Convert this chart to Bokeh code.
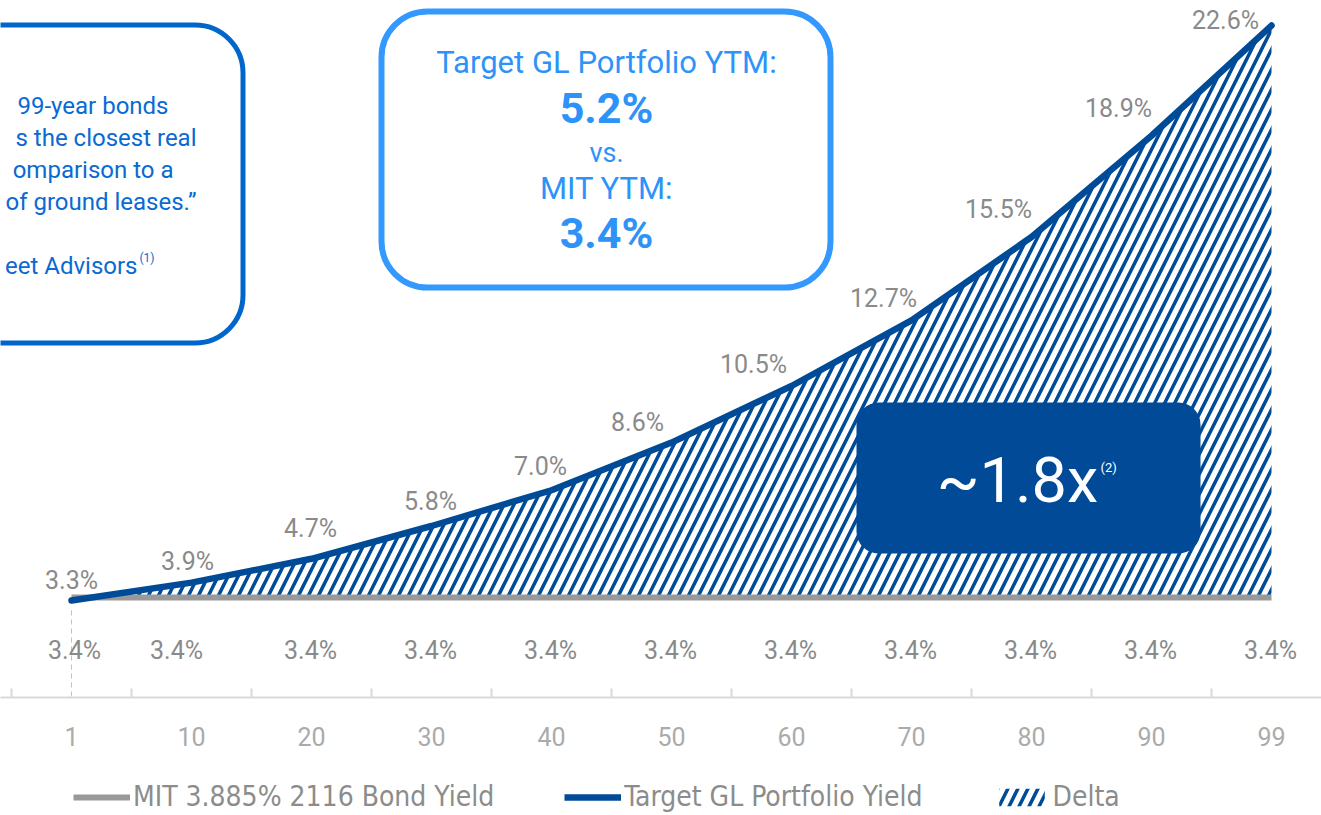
from bokeh.plotting import figure
from bokeh.layouts import column
from bokeh.models import Range1d, FixedTicker, ColumnDataSource, Legend, LegendItem
from bokeh.embed import file_html
from bokeh.resources import INLINE
from bokeh.core.properties import value

# ---------------- data ----------------
years = ["1", "10", "20", "30", "40", "50", "60", "70", "80", "90", "99"]
target_yield = [3.3, 3.9, 4.7, 5.8, 7.0, 8.6, 10.5, 12.7, 15.5, 18.9, 22.6]
mit_yield = [3.4, 3.4, 3.4, 3.4, 3.4, 3.4, 3.4, 3.4, 3.4, 3.4, 3.4]
series_names = ["MIT 3.885% 2116 Bond Yield", "Target GL Portfolio Yield", "Delta"]

# label nudges (styling, screen px)
target_dx = [0, -4, -1, -1, -11, -34, -38, -28, -33, -33, -46]
target_dy = [-20, -21, -30, -25, -24, -20, -21, -22, -28, -27, -5]
mit_dx = [3, -15, -1, -1, -1, -1, -1, -1, -1, -1, -1]

FONT = "Roboto"
BLUE = "#004B97"
GRAY = "#999999"
LABEL_GRAY = "#8a8a8a"
W = 1321

xs = list(range(len(years)))
src = ColumnDataSource(dict(
    x=xs, target=target_yield, mit=mit_yield,
    tlabel=[f"{v:.1f}%" for v in target_yield],
    mlabel=[f"{v:.1f}%" for v in mit_yield],
    tdx=target_dx, tdy=target_dy, mdx=mit_dx,
))

# pixel helpers for annotation placement (page px -> data)
def X(px):
    return (px - 71) / 120.0

def Y(py):
    return 3.4 + (597 - py) / 29.79

FRAME_BOTTOM = 697
MAIN_H = 762
p = figure(width=W, height=MAIN_H,
           x_range=Range1d(X(0), X(W)), y_range=Range1d(Y(FRAME_BOTTOM), Y(0)),
           output_backend="svg", toolbar_location=None, y_axis_location=None,
           min_border_left=0, min_border_right=0, min_border_top=0,
           min_border_bottom=MAIN_H - FRAME_BOTTOM)
p.outline_line_color = None
p.xgrid.visible = False
p.ygrid.visible = False
p.background_fill_color = "white"

ax = p.xaxis[0]
ax.ticker = FixedTicker(ticks=xs, minor_ticks=[i - 0.5 for i in range(len(years) + 1)])
ax.major_label_overrides = {i: years[i] for i in xs}
ax.axis_line_color = "#d9d9d9"
ax.axis_line_width = 2
ax.major_tick_in = 0
ax.major_tick_out = 0
ax.minor_tick_in = 9
ax.minor_tick_out = 0
ax.minor_tick_line_color = "#d9d9d9"
ax.minor_tick_line_width = 2
ax.major_label_standoff = 29
ax.major_label_text_font = FONT
ax.major_label_text_font_size = "25px"
ax.major_label_text_color = "#ababab"

# drop line at first point
p.segment(x0=[xs[0]], y0=[Y(610)], x1=[xs[0]], y1=[Y(697)], line_color="#b9c3d3",
          line_width=1, line_dash="5 4")

# delta hatch
HATCH = dict(fill_color="white", hatch_pattern="/", hatch_color=BLUE, hatch_scale=20, hatch_weight=3.5)
delta = p.varea(x="x", y1="mit", y2="target", source=src, **HATCH)

mit_line = p.line("x", "mit", source=src, line_color=GRAY, line_width=6)
tgt_line = p.line("x", "target", source=src, line_color=BLUE, line_width=6.5, line_cap="round")

# data labels
p.text(x="x", y="target", text="tlabel", source=src, x_offset="tdx", y_offset="tdy",
       text_align="center", text_baseline="middle", text_font=value(FONT),
       text_font_size="25px", text_color=LABEL_GRAY)
p.text(x="x", y="mit", text="mlabel", source=src, x_offset="mdx", y_offset=53,
       text_align="center", text_baseline="middle", text_font=value(FONT),
       text_font_size="25px", text_color=LABEL_GRAY)

# ---------------- boxes ----------------
# left quote box
p.quad(left=[X(-60)], right=[X(242.5)], top=[Y(24.5)], bottom=[Y(342.5)],
       fill_color=None, line_color="#0066CC", line_width=5, border_radius=48)
quote_lines = ["99-year bonds", "s the closest real", "omparison to a", "of ground leases.\u201d", "eet Advisors"]
quote_right = [168, 196, 173, 196, 137]
quote_y = [105, 137, 169, 201, 265]
p.text(x=[X(v) for v in quote_right], y=[Y(v) for v in quote_y], text=quote_lines,
       text_align="right", text_baseline="middle", text_font=value(FONT),
       text_font_size="24px", text_color="#0A6AD3")
p.text(x=[X(139)], y=[Y(257)], text=["(1)"], text_align="left", text_baseline="middle",
       text_font=value(FONT), text_font_size="12px", text_color="#0A6AD3")

# top YTM box
p.quad(left=[X(381)], right=[X(830)], top=[Y(11)], bottom=[Y(287)],
       fill_color=None, line_color="#3399FF", line_width=6, border_radius=46)
ytm_text = ["Target GL Portfolio YTM:", "5.2%", "vs.", "MIT YTM:", "3.4%"]
ytm_y = [62, 107, 152, 188, 232]
ytm_size = ["31px", "43px", "27px", "31px", "43px"]
ytm_style = ["normal", "bold", "normal", "normal", "bold"]
p.text(x=[X(606)] * 5, y=[Y(v) for v in ytm_y], text=ytm_text, text_font_size=ytm_size,
       text_font_style=ytm_style,
       text_align="center", text_baseline="middle", text_font=value(FONT),
       text_color="#2E93F8")

# ~1.8x box
p.quad(left=[X(856)], right=[X(1200)], top=[Y(402)], bottom=[Y(553)],
       fill_color="#004A98", line_color=None, border_radius=22)
p.text(x=[X(1017)], y=[Y(480)], text=["~1.8x"], text_align="center", text_baseline="middle",
       text_font=value(FONT), text_font_size="63px", text_color="white")
p.text(x=[X(1100)], y=[Y(467)], text=["(2)"], text_align="left", text_baseline="middle",
       text_font=value(FONT), text_font_size="13px", text_color="white")

# ---------------- legend (separate strip) ----------------
LEG_H = 815 - MAIN_H
lg = figure(width=W, height=LEG_H, x_range=Range1d(0, 1), y_range=Range1d(0, 1),
            output_backend="svg", toolbar_location=None, x_axis_location=None,
            y_axis_location=None, min_border=0)
lg.outline_line_color = None
lg.xgrid.visible = False
lg.ygrid.visible = False
nan = float("nan")
empty = ColumnDataSource(dict(x=[nan], y=[nan], y2=[nan]))
k_mit = lg.line("x", "y", source=empty, line_color=GRAY, line_width=6)
k_tgt = lg.line("x", "y", source=empty, line_color=BLUE, line_width=6.5)
k_delta = lg.varea(x="x", y1="y", y2="y2", source=empty, **HATCH)
legend = Legend(items=[
    LegendItem(label=series_names[0], renderers=[k_mit]),
    LegendItem(label=series_names[1], renderers=[k_tgt]),
    LegendItem(label=series_names[2], renderers=[k_delta]),
], orientation="horizontal", location=(73, 2), margin=0, padding=0, spacing=70,
    glyph_width=57, glyph_height=22, label_standoff=3, label_height=30,
    label_text_font="DejaVu Sans Condensed", label_text_font_size="28px",
    label_text_color="#8c8c8c", border_line_color=None, background_fill_alpha=0)
lg.add_layout(legend, "center")

layout = column(p, lg, spacing=0)
open("out.html", "w").write(file_html(layout, INLINE))
